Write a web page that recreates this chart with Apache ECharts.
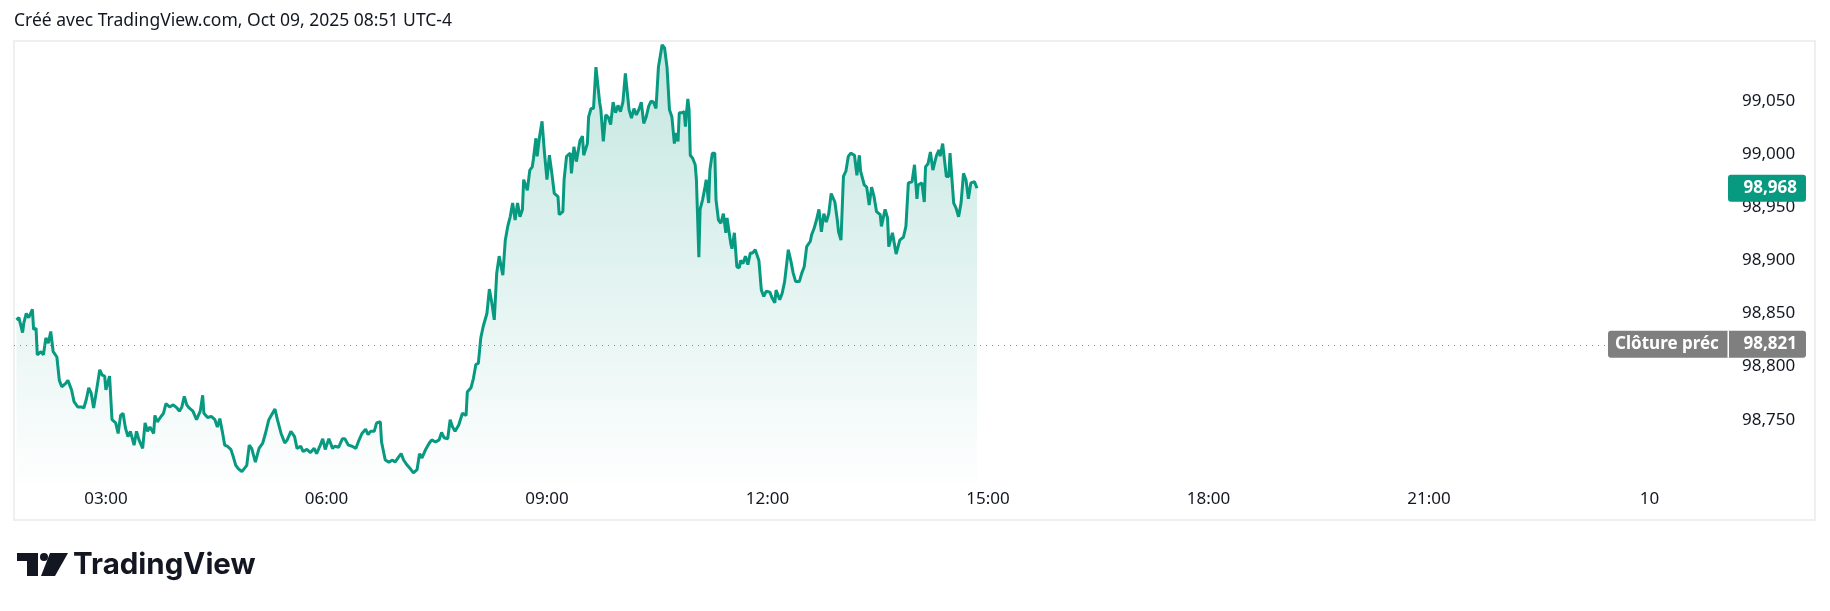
<!DOCTYPE html>
<html>
<head>
<meta charset="utf-8">
<script src="https://cdn.jsdelivr.net/npm/echarts@6/dist/echarts.min.js"></script>
<style>
  html, body { margin: 0; padding: 0; background: #fff; }
  #chart { width: 1830px; height: 611px; }
</style>
</head>
<body>
<div id="chart"></div>
<script>
// minutes since midnight (axis time zone)
var times = [107,109,112,113,115,117,120,121,123,124,127,129,131,133,135,137,140,142,144,147,149,152,154,157,160,162,164,166,168,170,172,175,177,179,180,183,185,188,190,192,194,196,198,200,203,205,207,210,212,214,216,219,220,222,225,227,229,232,235,238,240,242,244,246,248,251,254,257,259,260,263,266,269,271,273,275,277,279,282,284,286,288,291,295,297,299,302,305,308,310,313,316,318,320,323,326,328,331,334,336,339,341,344,347,350,352,355,357,359,362,365,367,370,373,375,378,381,384,386,389,392,394,396,399,401,404,405,408,411,414,416,419,421,423,426,429,431,434,436,438,441,444,446,449,452,454,456,459,461,463,465,468,471,474,475,478,480,482,484,486,488,491,493,495,497,499,501,504,506,508,510,512,514,516,518,520,521,524,526,528,529,531,532,534,536,538,540,542,544,546,549,550,553,554,556,559,560,562,564,567,569,570,573,574,576,578,580,583,584,586,588,590,592,594,596,598,600,602,604,607,609,611,613,615,617,619,621,623,625,627,629,631,632,634,636,638,640,642,644,645,647,648,650,652,653,654,655,656,657,659,661,662,664,665,667,669,670,672,673,675,677,678,680,682,684,686,687,690,691,693,695,697,698,700,702,704,706,708,710,713,715,717,719,722,724,726,727,730,732,734,737,739,741,743,746,748,750,752,755,756,758,760,762,764,766,768,770,772,775,777,778,780,782,784,786,788,791,793,795,796,799,801,803,805,807,809,812,813,816,818,819,822,825,828,831,833,835,838,840,842,843,846,848,849,851,853,855,858,860,861,863,866,868,869,872,874,876,878,880,882,884,886,889,891];
var prices = [98.844,98.846,98.832,98.841,98.850,98.846,98.854,98.835,98.836,98.811,98.814,98.811,98.827,98.822,98.833,98.814,98.809,98.787,98.781,98.784,98.787,98.778,98.767,98.762,98.762,98.761,98.769,98.780,98.775,98.761,98.775,98.797,98.792,98.791,98.778,98.791,98.750,98.747,98.737,98.754,98.756,98.742,98.734,98.739,98.726,98.739,98.731,98.723,98.747,98.739,98.743,98.737,98.754,98.748,98.753,98.756,98.765,98.762,98.764,98.761,98.758,98.762,98.772,98.764,98.761,98.758,98.750,98.758,98.773,98.756,98.752,98.753,98.750,98.743,98.751,98.739,98.726,98.725,98.722,98.715,98.707,98.704,98.701,98.707,98.726,98.723,98.710,98.723,98.728,98.736,98.750,98.756,98.760,98.750,98.737,98.728,98.731,98.739,98.734,98.723,98.725,98.720,98.722,98.719,98.723,98.718,98.726,98.732,98.722,98.732,98.723,98.725,98.724,98.732,98.732,98.726,98.725,98.723,98.729,98.737,98.741,98.736,98.739,98.739,98.747,98.748,98.729,98.712,98.710,98.712,98.710,98.715,98.718,98.712,98.707,98.703,98.700,98.703,98.718,98.714,98.722,98.728,98.731,98.729,98.731,98.738,98.733,98.732,98.750,98.743,98.739,98.745,98.756,98.754,98.776,98.780,98.789,98.802,98.803,98.827,98.838,98.850,98.873,98.860,98.844,98.888,98.904,98.886,98.919,98.932,98.941,98.954,98.938,98.954,98.941,98.948,98.976,98.966,98.985,98.988,98.996,99.015,98.998,99.017,99.031,99.001,98.976,98.999,98.982,98.963,98.960,98.943,98.946,98.976,98.998,99.001,98.982,99.007,98.993,99.013,99.017,98.999,99.010,99.035,99.043,99.043,99.082,99.049,99.042,99.012,99.037,99.035,99.028,99.049,99.039,99.046,99.040,99.049,99.076,99.042,99.034,99.043,99.037,99.042,99.049,99.029,99.035,99.045,99.050,99.049,99.043,99.082,99.089,99.103,99.100,99.082,99.042,99.035,99.010,99.020,99.012,99.039,99.039,99.040,99.026,99.040,99.052,99.042,98.999,98.996,98.990,98.976,98.903,98.948,98.957,98.969,98.976,98.954,98.985,99.001,99.001,98.957,98.938,98.935,98.944,98.926,98.940,98.916,98.911,98.926,98.894,98.893,98.900,98.897,98.904,98.896,98.907,98.907,98.910,98.900,98.872,98.866,98.871,98.870,98.864,98.860,98.872,98.863,98.869,98.880,98.910,98.900,98.888,98.880,98.880,98.888,98.894,98.913,98.918,98.924,98.930,98.938,98.948,98.927,98.944,98.936,98.944,98.963,98.955,98.938,98.927,98.919,98.979,98.984,98.998,99.001,98.999,98.980,98.999,98.984,98.971,98.969,98.952,98.969,98.960,98.946,98.943,98.932,98.948,98.940,98.913,98.926,98.906,98.919,98.922,98.932,98.973,98.974,98.990,98.958,98.971,98.973,98.955,98.988,98.991,99.002,98.985,98.999,99.004,98.998,99.010,98.979,98.979,99.001,98.954,98.949,98.941,98.954,98.982,98.976,98.958,98.973,98.974,98.968];

var timeTicks = [180, 360, 540, 720, 900, 1080, 1260, 1440];
var priceTicks = [98.75, 98.80, 98.85, 98.90, 98.95, 99.00, 99.05];
var prevClose = 98.821;
var lastPrice = 98.968;
var prevCloseLabel = 'Clôture préc';
var titleText = 'Créé avec TradingView.com, Oct 09, 2025 08:51 UTC-4';

var FONT = '"Noto Sans", sans-serif';
var TEXT = '#131722';
var GREEN = '#089981';
var GREY = '#7f7f7f';

function fmtPrice(v) {
  return v.toFixed(3).replace('.', ',');
}
function fmtTime(m) {
  if (m % 1440 === 0) return '10';
  var h = Math.floor(m / 60), mm = m % 60;
  return (h < 10 ? '0' : '') + h + ':' + (mm < 10 ? '0' : '') + mm;
}

var chart = echarts.init(document.getElementById('chart'), null, { renderer: 'canvas' });

var seriesData = times.map(function (t, i) { return [t, prices[i]]; });

chart.setOption({
  animation: false,
  backgroundColor: '#ffffff',
  grid: { left: 14, right: 102, top: 41, bottom: 129 },
  xAxis: {
    type: 'value',
    min: 105,
    max: 1504,
    axisLine: { show: false },
    axisTick: { show: false },
    splitLine: { show: false },
    axisLabel: {
      customValues: timeTicks,
      formatter: fmtTime,
      color: TEXT,
      fontSize: 17,
      fontFamily: FONT,
      margin: 9
    }
  },
  yAxis: {
    type: 'value',
    position: 'right',
    min: 98.6913,
    max: 99.1066,
    axisLine: { show: false },
    axisTick: { show: false },
    splitLine: { show: false },
    axisLabel: {
      customValues: priceTicks,
      formatter: fmtPrice,
      color: TEXT,
      fontSize: 17,
      fontFamily: FONT,
      margin: 14
    }
  },
  series: [{
    type: 'line',
    data: seriesData,
    showSymbol: false,
    lineStyle: { color: GREEN, width: 3 },
    areaStyle: {
      color: new echarts.graphic.LinearGradient(0, 0, 0, 1, [
        { offset: 0, color: 'rgba(8,153,129,0.34)' },
        { offset: 1, color: 'rgba(8,153,129,0.01)' }
      ])
    },
    markLine: {
      silent: true,
      symbol: 'none',
      label: { show: false },
      lineStyle: { color: '#8a8a8a', type: [1, 5], width: 1 },
      data: [{ yAxis: prevClose }]
    },
    z: 2
  }]
});

// price tags on the right, placed through the axis scale
var yPrev = chart.convertToPixel({ yAxisIndex: 0 }, prevClose);
var yLast = chart.convertToPixel({ yAxisIndex: 0 }, lastPrice);

function tag(x, y, w, color) {
  return { type: 'rect', z: 100, shape: { x: x, y: y - 13.5, width: w, height: 27, r: 3 }, style: { fill: color } };
}
function tagText(x, y, text, align, bold) {
  return {
    type: 'text', z: 101, x: x, y: y,
    style: { text: text, fill: '#fff', font: (bold ? 'bold ' : '') + '17px ' + FONT, textAlign: align, textVerticalAlign: 'middle' }
  };
}

chart.setOption({
  graphic: [
    // chart frame
    { type: 'rect', z: 0, shape: { x: 14, y: 41, width: 1801, height: 479 }, style: { fill: 'none', stroke: '#efefef', lineWidth: 2 } },
    // header
    { type: 'text', x: 14, y: 21, style: { text: titleText, fill: TEXT, font: '17.5px ' + FONT, textVerticalAlign: 'middle' } },
    // last price
    tag(1728, yLast, 78, GREEN),
    tagText(1797, yLast, fmtPrice(lastPrice), 'right', true),
    // previous close
    tag(1608, yPrev, 198, GREY),
    { type: 'rect', z: 101, shape: { x: 1727.5, y: yPrev - 13.5, width: 1.5, height: 27 }, style: { fill: '#fff' } },
    tagText(1667, yPrev, prevCloseLabel, 'center', true),
    tagText(1797, yPrev, fmtPrice(prevClose), 'right', true),
    // TradingView logo
    { type: 'rect', shape: { x: 17, y: 553, width: 21, height: 8 }, style: { fill: '#131722' } },
    { type: 'rect', shape: { x: 27, y: 553, width: 11, height: 23 }, style: { fill: '#131722' } },
    { type: 'circle', shape: { cx: 44, cy: 557, r: 4 }, style: { fill: '#131722' } },
    { type: 'polygon', shape: { points: [[50, 553], [68, 553], [55, 576], [41, 576]] }, style: { fill: '#131722' } },
    { type: 'text', x: 73, y: 565, style: { text: 'TradingView', fill: '#131722', font: 'bold 29.5px Inter, "Noto Sans", sans-serif', textVerticalAlign: 'middle' } }
  ]
});
</script>
</body>
</html>
